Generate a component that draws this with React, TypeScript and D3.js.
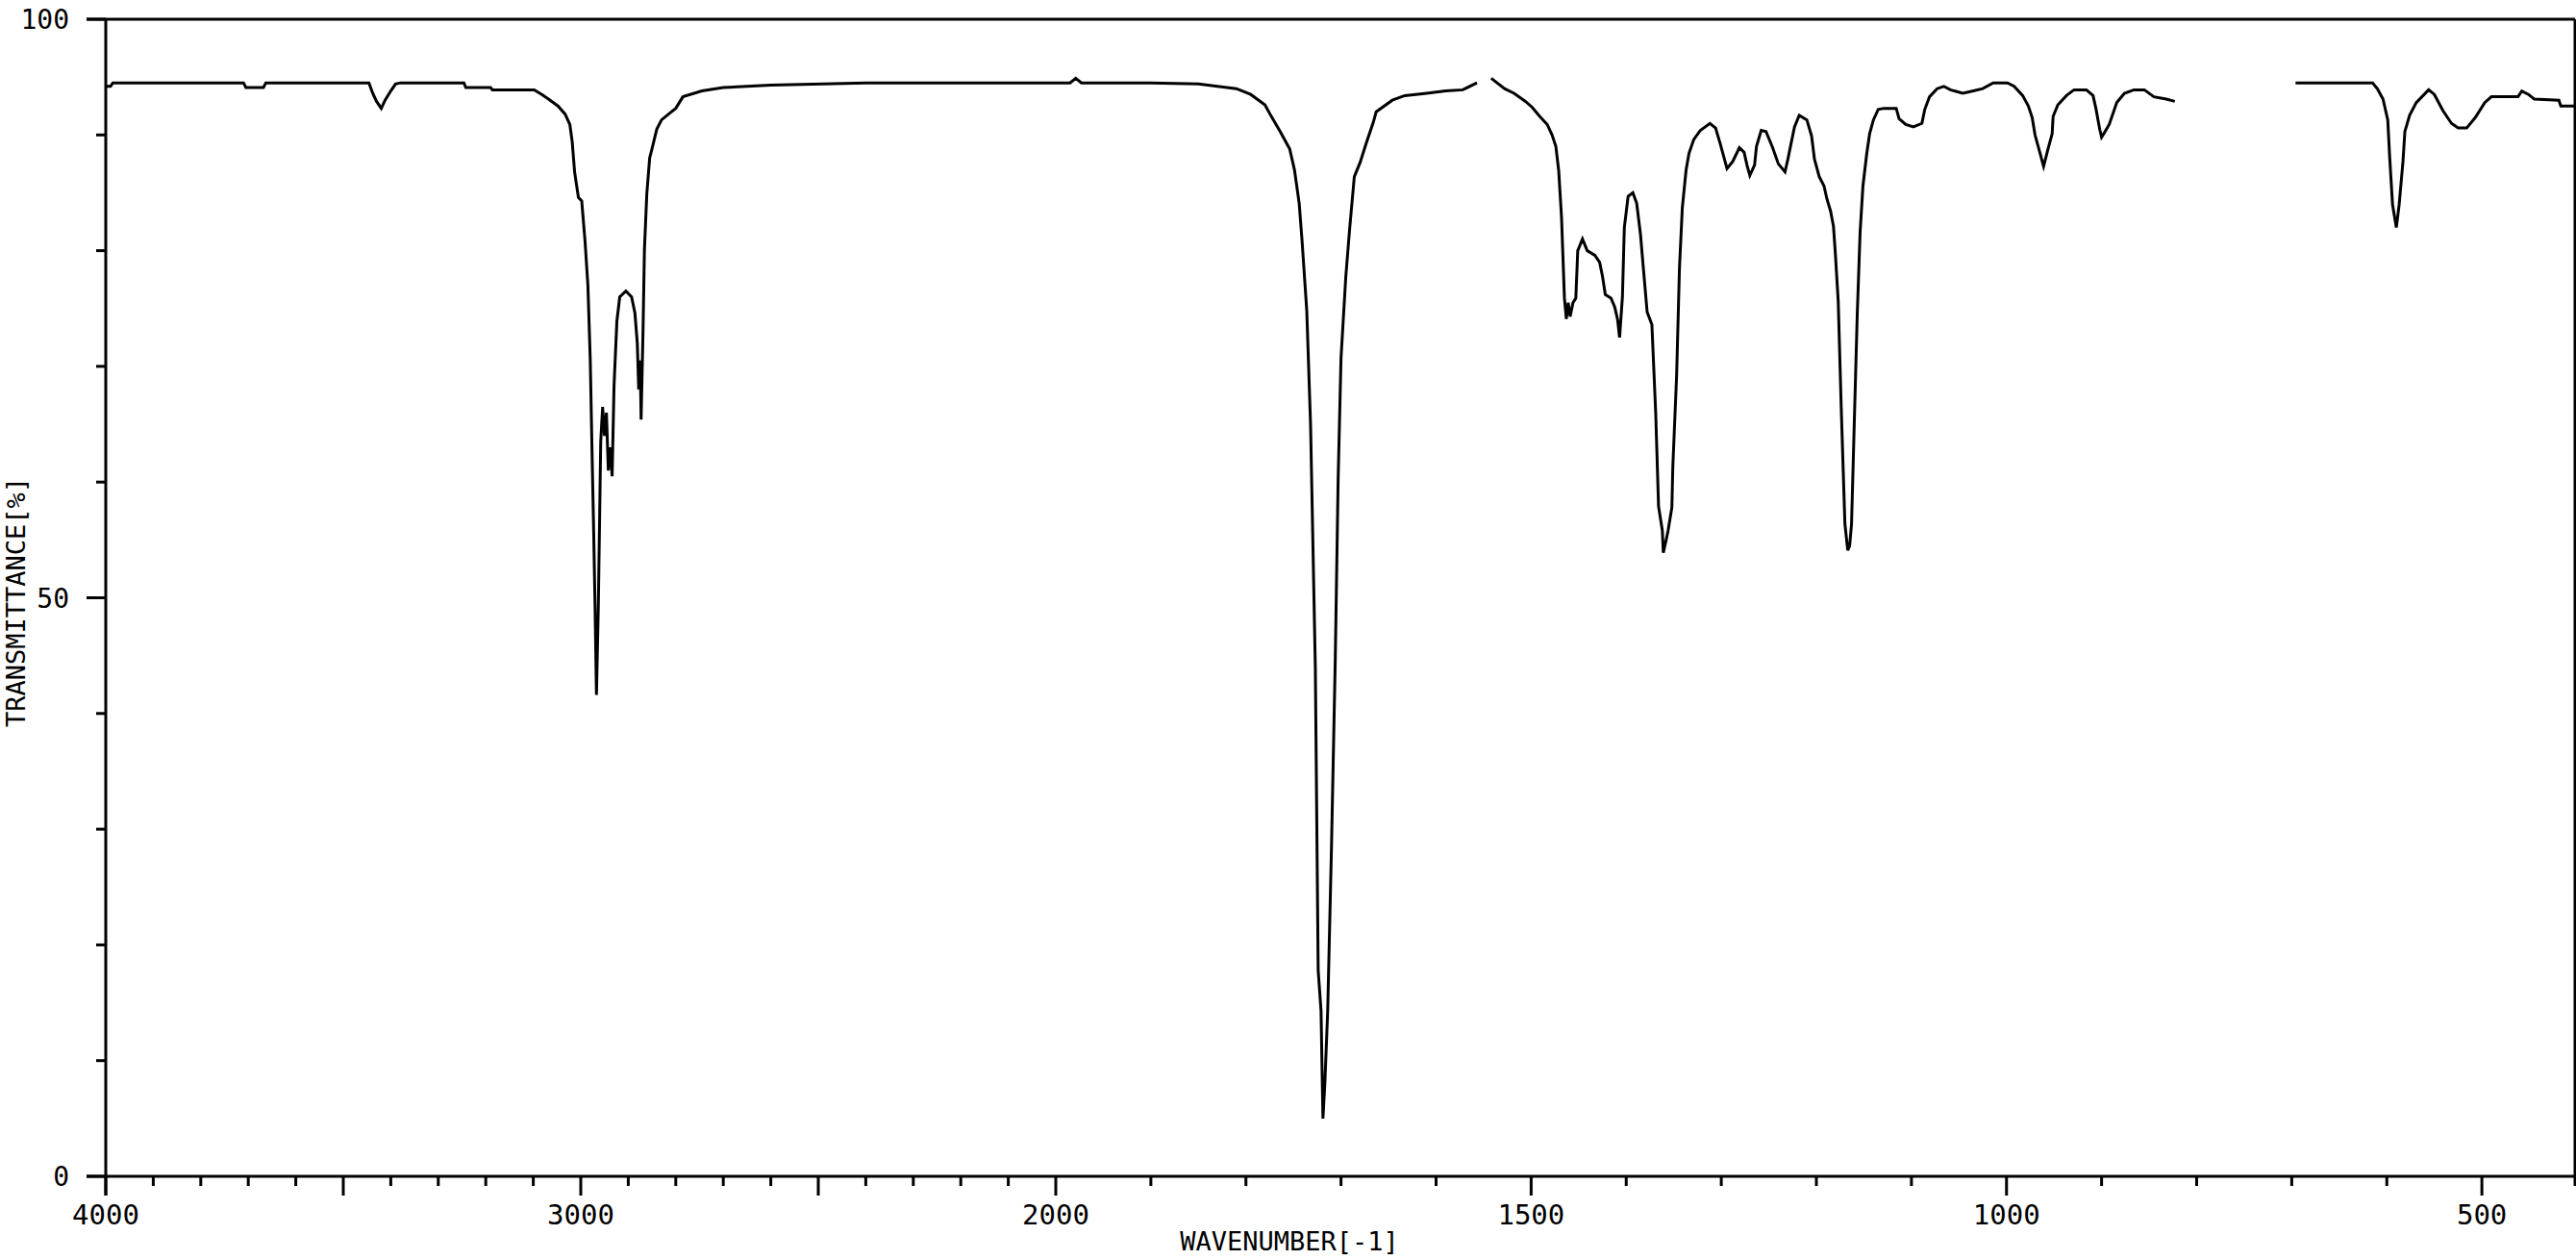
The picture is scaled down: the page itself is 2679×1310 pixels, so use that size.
import React from 'react';
import * as d3 from 'd3';

const W = 2679;
const H = 1310;

// Spectrum (wavenumber in cm-1, transmittance in %), null = no data (gap)
const wavenumbers: number[] = [
  4000, 3990, 3985, 3710, 3705, 3668, 3663, 3446, 3438, 3430, 3420, 3412, 3400, 3390, 3380,
  3246, 3242, 3190, 3186, 3098, 3082, 3068, 3048, 3033, 3023, 3018, 3013, 3005, 2998, 2991,
  2985, 2980, 2976, 2973, 2970, 2967, 2963, 2958, 2954, 2950, 2946, 2942, 2938, 2934, 2930,
  2924, 2918, 2905, 2893, 2886, 2881, 2878, 2875, 2873, 2869, 2866, 2861, 2855, 2850, 2840,
  2830, 2812, 2800, 2785, 2745, 2700, 2600, 2400, 2200, 1985, 1979, 1973, 1900, 1850, 1810,
  1795, 1780, 1774, 1764, 1754, 1749, 1744, 1741, 1736, 1732, 1727, 1724, 1721, 1719, 1717,
  1714, 1710, 1706, 1703, 1700, 1695, 1691, 1686, 1680, 1673, 1666, 1663, 1646, 1633, 1610,
  1590, 1572, 1557, 1550, 1542, 1528, 1518, 1506, 1499, 1491, 1483, 1478, 1474, 1471, 1468,
  1465, 1463, 1461, 1459, 1456, 1453, 1451, 1446, 1441, 1433, 1428, 1425, 1422, 1416, 1412,
  1409, 1407, 1404, 1402, 1398, 1393, 1389, 1385, 1382, 1378, 1373, 1369, 1366, 1362, 1361,
  1358, 1356, 1352, 1351, 1347, 1344, 1341, 1337, 1334, 1329, 1322, 1312, 1306, 1301, 1294,
  1288, 1281, 1276, 1273, 1270, 1265, 1263, 1258, 1253, 1246, 1240, 1233, 1230, 1226, 1223,
  1218, 1210, 1205, 1202, 1197, 1192, 1189, 1185, 1182, 1180, 1177, 1174, 1170, 1167, 1165,
  1163, 1160, 1157, 1154, 1151, 1147, 1144, 1140, 1135, 1129, 1116, 1113, 1106, 1098, 1089,
  1086, 1081, 1073, 1066, 1059, 1046, 1035, 1025, 1014, 999, 992, 983, 977, 973, 970,
  965, 961, 956, 952, 951, 946, 937, 929, 916, 909, 906, 902, 900, 897, 892,
  884, 876, 866, 855, 845, 832, 823, 760, 696, 615, 610, 604, 599, 597, 594,
  590, 587, 583, 581, 576, 569, 556, 550, 541, 532, 525, 516, 507, 497, 490,
  462, 458, 451, 445, 419, 417, 400,
];

const transmittance: (number | null)[] = [
  94.2, 94.2, 94.5, 94.5, 94.1, 94.1, 94.5, 94.5, 93.6, 92.9, 92.3, 93.0, 93.8, 94.4, 94.5,
  94.5, 94.1, 94.1, 93.9, 93.9, 93.5, 93.1, 92.5, 91.8, 90.9, 89.4, 86.8, 84.6, 84.3, 80.8,
  77.0, 70.5, 62.0, 56.0, 49.4, 41.6, 49.4, 63.5, 66.5, 64.0, 66.0, 61.0, 63.0, 60.5, 68.3,
  73.9, 76.0, 76.5, 76.0, 74.6, 72.0, 68.0, 70.5, 65.4, 73.0, 80.1, 84.9, 88.0, 88.8, 90.5,
  91.3, 91.9, 92.3, 93.3, 93.8, 94.1, 94.3, 94.5, 94.5, 94.5, 94.9, 94.5, 94.5, 94.4, 94.0,
  93.5, 92.6, 91.7, 90.3, 88.8, 87.0, 84.1, 80.9, 74.8, 64.9, 44.0, 17.8, 14.3, 5.0, 8.0,
  14.3, 28.5, 44.8, 60.3, 70.7, 77.7, 81.8, 86.4, 87.6, 89.4, 91.1, 92.0, 93.0, 93.4, 93.6,
  93.8, 93.9, 94.5, null, 94.9, 94.0, 93.6, 92.9, 92.4, 91.6, 90.9, 90.0, 89.0, 86.9, 82.8,
  75.9, 74.1, 75.5, 74.3, 75.5, 75.9, 80.0, 81.0, 80.0, 79.6, 79.0, 77.8, 76.2, 75.9, 75.1,
  74.0, 72.5, 76.0, 82.0, 84.7, 85.0, 84.1, 81.4, 78.5, 74.7, 73.6, 66.0, 57.9, 55.8, 53.9,
  55.0, 55.8, 57.8, 61.3, 69.2, 78.5, 83.7, 87.0, 88.4, 89.6, 90.4, 91.0, 90.6, 89.2, 87.1,
  87.7, 88.9, 88.5, 87.4, 86.5, 87.4, 89.0, 90.4, 90.3, 88.9, 87.5, 86.8, 87.9, 89.5, 90.7,
  91.7, 91.3, 89.9, 87.9, 86.4, 85.6, 84.5, 83.4, 82.1, 79.7, 75.6, 66.8, 56.4, 54.1, 54.5,
  56.4, 65.5, 74.5, 81.6, 85.6, 88.4, 90.1, 91.3, 92.2, 92.3, 92.3, 91.4, 90.9, 90.7, 91.0,
  92.2, 93.3, 94.0, 94.2, 93.9, 93.6, 93.8, 94.0, 94.5, 94.5, 94.2, 93.4, 92.5, 91.5, 90.0,
  88.5, 87.3, 88.9, 90.1, 91.6, 92.6, 93.4, 93.9, 93.9, 93.4, 92.3, 90.5, 89.8, 90.2, 90.9,
  92.8, 93.6, 93.9, 93.9, 93.3, 93.1, 92.9, null, 94.5, 94.5, 94.0, 93.1, 91.3, 88.1, 84.0,
  82.0, 84.0, 87.7, 90.3, 91.7, 92.8, 93.9, 93.5, 92.1, 91.0, 90.6, 90.6, 91.5, 92.8, 93.3,
  93.3, 93.8, 93.5, 93.1, 93.0, 92.5, 92.5,
];

const xMajorTicks = [4000, 3500, 3000, 2500, 2000, 1500, 1000, 500];
const xTickLabels = [4000, 3000, 2000, 1500, 1000, 500];
const yMajorTicks = [0, 50, 100];
const yMinorTicks = [10, 20, 30, 40, 60, 70, 80, 90];
const xTitle = 'WAVENUMBER[-1]';
const yTitle = 'TRANSMITTANCE[%]';

export default function App() {
  const left = 110;
  const top = 20;
  const bottom = 1223;

  const x = d3.scaleLinear().domain([4000, 2000, 400]).range([left, 1098, 2680]);
  const y = d3.scaleLinear().domain([0, 100]).range([bottom, top]);

  const points = wavenumbers.map((w, i) => ({ w, t: transmittance[i] }));
  const line = d3
    .line<{ w: number; t: number | null }>()
    .defined((d) => d.t !== null)
    .x((d) => x(d.w))
    .y((d) => y(d.t as number));

  const minorX = d3.range(400, 4001, 100).filter((v) => v % 500 !== 0);
  const right = x(400) - 2;
  const font = "'DejaVu Sans Mono', monospace";

  return (
    <svg
      width={W}
      height={H}
      style={{ position: 'absolute', left: 0, top: 0, background: '#fff' }}
    >
      <rect x={0} y={0} width={W} height={H} fill="#fff" />
      {/* frame */}
      <line x1={left - 20} x2={right} y1={top} y2={top} stroke="#000" strokeWidth={3} />
      <line x1={left - 20} x2={right} y1={bottom} y2={bottom} stroke="#000" strokeWidth={3} />
      <line x1={left} x2={left} y1={top} y2={bottom + 20} stroke="#000" strokeWidth={3} />
      <line x1={right} x2={right} y1={top} y2={bottom + 10} stroke="#000" strokeWidth={3} />

      {/* x ticks */}
      {minorX.map((v) => (
        <line key={'mx' + v} x1={x(v)} x2={x(v)} y1={bottom} y2={bottom + 10} stroke="#000" strokeWidth={3} />
      ))}
      {xMajorTicks.map((v) => (
        <line key={'Mx' + v} x1={x(v)} x2={x(v)} y1={bottom} y2={bottom + 20} stroke="#000" strokeWidth={3} />
      ))}
      {xTickLabels.map((v) => (
        <text key={'lx' + v} x={x(v)} y={1273} textAnchor="middle" fontFamily={font} fontSize={29} fill="#000">
          {v}
        </text>
      ))}

      {/* y ticks */}
      {yMinorTicks.map((v) => (
        <line key={'my' + v} x1={left - 10} x2={left} y1={y(v)} y2={y(v)} stroke="#000" strokeWidth={3} />
      ))}
      {yMajorTicks.map((v) => (
        <line key={'My' + v} x1={left - 20} x2={left} y1={y(v)} y2={y(v)} stroke="#000" strokeWidth={3} />
      ))}
      {yMajorTicks.map((v) => (
        <text key={'ly' + v} x={72} y={y(v) + 10} textAnchor="end" fontFamily={font} fontSize={28} fill="#000">
          {v}
        </text>
      ))}

      {/* titles */}
      <text x={1341} y={1300} textAnchor="middle" fontFamily={font} fontSize={27} fill="#000">
        {xTitle}
      </text>
      <text
        transform={`translate(26, 626) rotate(-90)`}
        textAnchor="middle"
        fontFamily={font}
        fontSize={27}
        fill="#000"
      >
        {yTitle}
      </text>

      {/* spectrum */}
      <path d={line(points) || ''} fill="none" stroke="#000" strokeWidth={3} strokeLinejoin="miter" />
    </svg>
  );
}
